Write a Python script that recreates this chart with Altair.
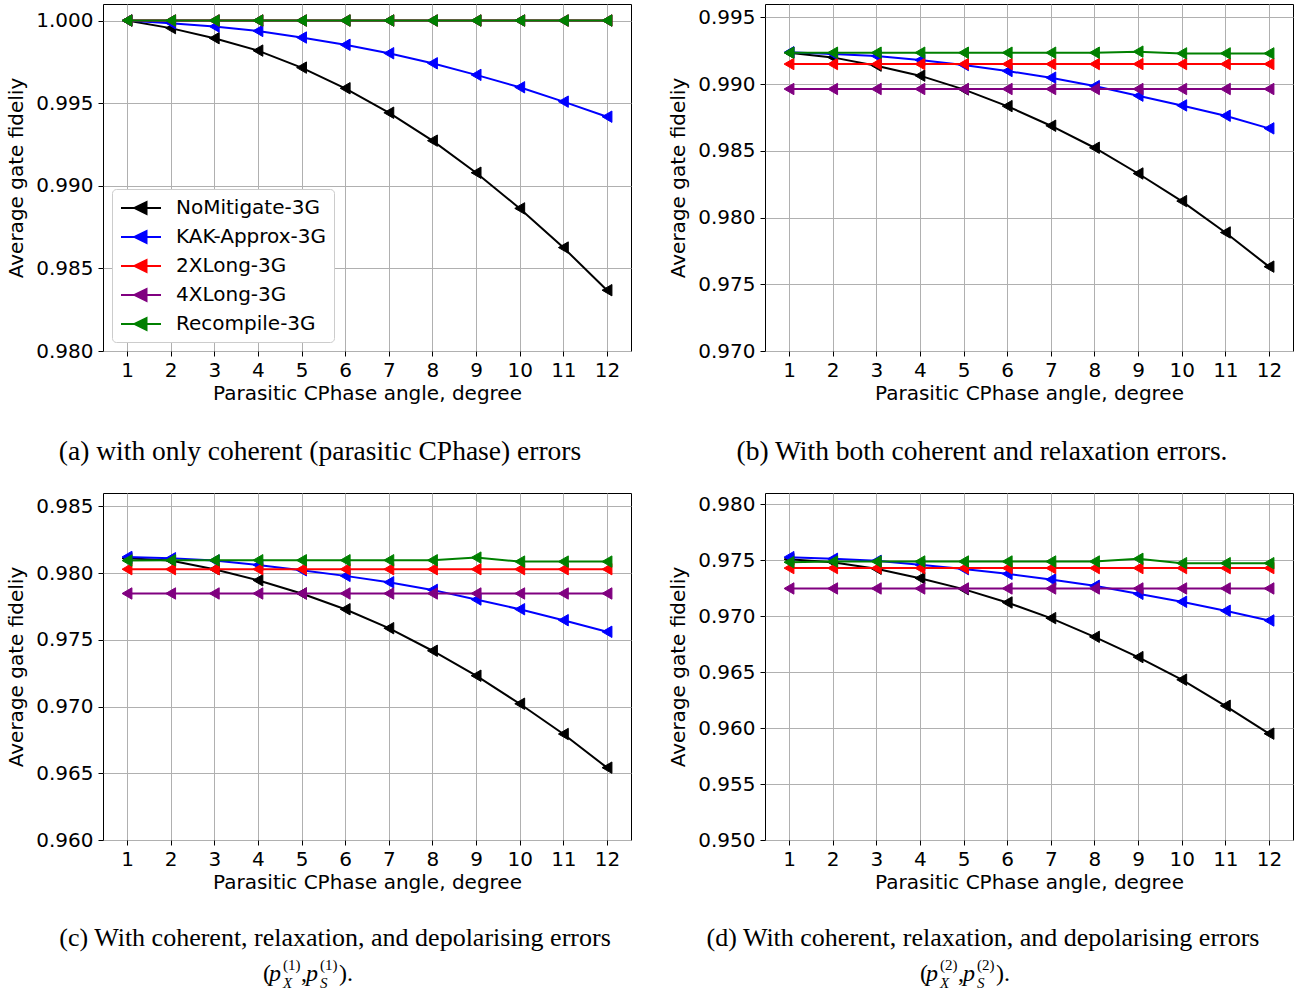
import altair as alt
import pandas as pd

angles = list(range(1, 13))
series_names = ["NoMitigate-3G", "KAK-Approx-3G", "2XLong-3G", "4XLong-3G", "Recompile-3G"]
series_colors = ["#000000", "#0000ff", "#ff0000", "#800080", "#008000"]

# (a) only coherent errors
a_nomit = [1.0000, 0.99954, 0.99893, 0.99818, 0.99715, 0.99590, 0.99442, 0.99273, 0.99079, 0.98863, 0.98626, 0.98368]
a_kak = [1.0000, 0.99984, 0.99964, 0.99937, 0.99897, 0.99853, 0.99802, 0.99741, 0.99671, 0.99596, 0.99509, 0.99418]
a_2x = [1.0000] * 12
a_4x = [1.0000] * 12
a_rec = [1.0000] * 12

# (b) coherent + relaxation
b_nomit = [0.99235, 0.99200, 0.99138, 0.99063, 0.98960, 0.98835, 0.98688, 0.98523, 0.98330, 0.98123, 0.97888, 0.97632]
b_kak = [0.99238, 0.99225, 0.99210, 0.99180, 0.99143, 0.99098, 0.99048, 0.98985, 0.98913, 0.98840, 0.98763, 0.98668]
b_2x = [0.99150] * 12
b_4x = [0.98963] * 12
b_rec = [0.99235, 0.99235, 0.99235, 0.99235, 0.99235, 0.99235, 0.99235, 0.99235, 0.99243, 0.99230, 0.99230, 0.99230]

# (c) coherent + relaxation + depolarising (1)
c_nomit = [0.98111, 0.98094, 0.98029, 0.97946, 0.97847, 0.97729, 0.97587, 0.97418, 0.97231, 0.97021, 0.96794, 0.96542]
c_kak = [0.98121, 0.98111, 0.98094, 0.98061, 0.98021, 0.97979, 0.97931, 0.97874, 0.97802, 0.97729, 0.97647, 0.97560]
c_2x = [0.98029] * 12
c_4x = [0.97847] * 12
c_rec = [0.98094, 0.98096, 0.98096, 0.98096, 0.98096, 0.98096, 0.98096, 0.98096, 0.98116, 0.98086, 0.98086, 0.98086]

# (d) coherent + relaxation + depolarising (2)
d_nomit = [0.97509, 0.97482, 0.97423, 0.97339, 0.97241, 0.97122, 0.96982, 0.96815, 0.96634, 0.96432, 0.96199, 0.95950]
d_kak = [0.97527, 0.97512, 0.97494, 0.97458, 0.97420, 0.97378, 0.97327, 0.97271, 0.97199, 0.97128, 0.97048, 0.96961]
d_2x = [0.97429] * 12
d_4x = [0.97247] * 12
d_rec = [0.97482, 0.97488, 0.97488, 0.97488, 0.97488, 0.97488, 0.97488, 0.97488, 0.97512, 0.97473, 0.97473, 0.97473]

y_domains = {
    "a": [0.980, 1.001],
    "b": [0.970, 0.996],
    "c": [0.960, 0.986],
    "d": [0.950, 0.981],
}
y_ticks = {
    "a": [0.980, 0.985, 0.990, 0.995, 1.000],
    "b": [0.970, 0.975, 0.980, 0.985, 0.990, 0.995],
    "c": [0.960, 0.965, 0.970, 0.975, 0.980, 0.985],
    "d": [0.950, 0.955, 0.960, 0.965, 0.970, 0.975, 0.980],
}

panel_series = {
    "a": [a_nomit, a_kak, a_2x, a_4x, a_rec],
    "b": [b_nomit, b_kak, b_2x, b_4x, b_rec],
    "c": [c_nomit, c_kak, c_2x, c_4x, c_rec],
    "d": [d_nomit, d_kak, d_2x, d_4x, d_rec],
}

W, H = 528, 347
SERIF = "Liberation Serif"
CAP = 26
MATH = 24
SCR = 15


def make_df(key):
    rows = []
    for name, vals in zip(series_names, panel_series[key]):
        for ang, v in zip(angles, vals):
            rows.append({"angle": ang, "fid": v, "series": name})
    return pd.DataFrame(rows)


def text_piece(txt, x, y, size=CAP, italic=False, align="left"):
    return alt.Chart(pd.DataFrame({"k": [0]})).mark_text(
        text=txt, font=SERIF, fontSize=size, fontStyle="italic" if italic else "normal",
        align=align, baseline="alphabetic", color="black"
    ).encode(x=alt.value(x), y=alt.value(y))


def panel(key, show_legend, captions):
    df = make_df(key)
    base = alt.Chart(df)
    sc = alt.Scale(domain=series_names, range=series_colors)
    if show_legend:
        leg = alt.Legend(
            title=None, orient="bottom-left", offset=9,
            symbolType="M-2,0H2M-0.65,0L0.55,-0.6L0.55,0.6Z", symbolSize=400,
            symbolStrokeWidth=2, symbolOffset=10, labelFont="DejaVu Sans", labelFontSize=20,
            labelColor="black", fillColor="white", strokeColor="#cccccc",
            cornerRadius=4, padding=8, rowPadding=8, labelOffset=24,
        )
    else:
        leg = None
    x = alt.X("angle:Q", scale=alt.Scale(domain=[0.45, 12.55], nice=False, zero=False),
              axis=alt.Axis(values=angles, title="Parasitic CPhase angle, degree", format="d"))
    y = alt.Y("fid:Q", scale=alt.Scale(domain=y_domains[key], nice=False, zero=False),
              axis=alt.Axis(values=y_ticks[key], format=".3f", title="Average gate fideliy"))
    layers = []
    for name in series_names:
        sub = base.transform_filter(alt.datum.series == name)
        layers.append(sub.mark_line(strokeWidth=2).encode(
            x=x, y=y, stroke=alt.Stroke("series:N", scale=sc, legend=leg)))
        layers.append(sub.mark_point(shape="triangle-left", filled=True, size=130, opacity=1,
                                     strokeWidth=1).encode(
            x=x, y=y,
            fill=alt.Fill("series:N", scale=sc, legend=leg),
            stroke=alt.Stroke("series:N", scale=sc, legend=leg)))
    layers.extend(captions)
    return alt.layer(*layers).properties(width=W, height=H)


def math_line(n, x0, yb):
    sup = "(" + str(n) + ")"
    return [
        text_piece("(", x0, yb, size=MATH),
        text_piece("p", x0 + 6, yb, size=MATH, italic=True),
        text_piece(sup, x0 + 20, yb - 11, size=SCR),
        text_piece("X", x0 + 20, yb + 7, size=SCR, italic=True),
        text_piece(",", x0 + 38, yb, size=MATH),
        text_piece("p", x0 + 43, yb, size=MATH, italic=True),
        text_piece(sup, x0 + 57, yb - 11, size=SCR),
        text_piece("S", x0 + 57, yb + 7, size=SCR, italic=True),
        text_piece(").", x0 + 76, yb, size=MATH),
    ]


cap_a = [text_piece("(a) with only coherent (parasitic CPhase) errors", 217, 456, size=27.5, align="center")]
cap_b = [text_piece("(b) With both coherent and relaxation errors.", 217, 456, size=27.5, align="center")]
cap_c = [text_piece("(c) With coherent, relaxation, and depolarising errors", 232, 453, align="center")] + math_line(1, 160, 488)
cap_d = [text_piece("(d) With coherent, relaxation, and depolarising errors", 218, 453, align="center")] + math_line(2, 155, 488)

pa = panel("a", True, cap_a)
pb = panel("b", False, cap_b)
pc = panel("c", False, cap_c)
pd_ = panel("d", False, cap_d)

row1 = alt.hconcat(pa, pb, spacing=36).resolve_scale(stroke="independent", fill="independent")
row2 = alt.hconcat(pc, pd_, spacing=36).resolve_scale(stroke="independent", fill="independent")

chart = alt.vconcat(row1, row2, spacing=26).resolve_scale(
    stroke="independent", fill="independent"
).properties(
    padding={"left": 6, "top": 3, "right": 5, "bottom": 2},
    background="white",
).configure_view(
    stroke="black", strokeWidth=1
).configure_axis(
    labelFont="DejaVu Sans", titleFont="DejaVu Sans", labelFontSize=20, titleFontSize=20,
    titleFontWeight="normal", labelColor="black", titleColor="black",
    gridColor="#b0b0b0", gridWidth=1, tickColor="black", tickSize=5, tickWidth=1,
    domain=False, labelPadding=4,
).configure_axisY(
    titlePadding=9, labelPadding=5,
).configure_axisX(
    titlePadding=3,
)

chart.save("out.html", embed_options={"renderer": "svg", "actions": False})
